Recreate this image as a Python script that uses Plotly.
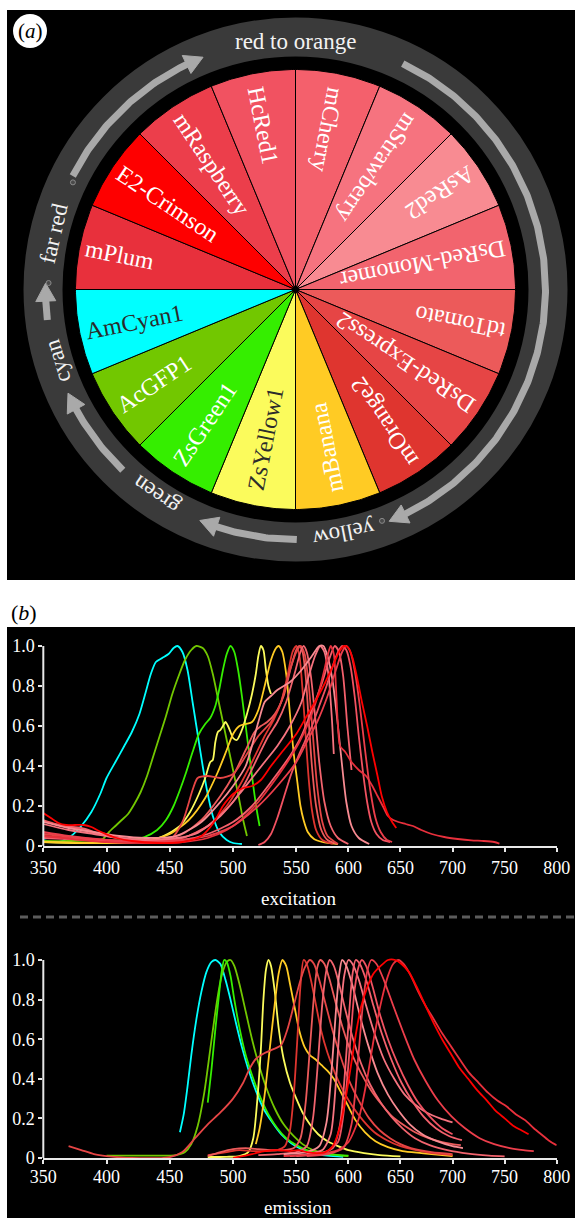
import math
import plotly.graph_objects as go

# ---------------- panel (a) data ----------------
proteins = ["mCherry", "mStrawberry", "AsRed2", "DsRed-Monomer", "tdTomato",
            "DsRed-Express2", "mOrange2", "mBanana", "ZsYellow1", "ZsGreen1",
            "AcGFP1", "AmCyan1", "mPlum", "E2-Crimson", "mRaspberry", "HcRed1"]
slice_values = [1, 1, 1, 1, 1, 1, 1, 1, 1, 1, 1, 1, 1, 1, 1, 1]
slice_colors = ["#f4606c", "#f6737f", "#f88b92", "#f2646e", "#ec5a5a",
                "#e64545", "#df352f", "#ffcb24", "#fbfb5c", "#35ee00",
                "#72c700", "#00ffff", "#e8303c", "#fe0000", "#ec3e4b", "#f15261"]
label_colors = ["white", "white", "white", "white", "white", "white", "white",
                "white", "#2b2b2b", "white", "white", "#2b2b2b", "white",
                "white", "white", "white"]

color_groups = ["red to orange", "yellow", "green", "cyan", "far red"]
group_label_angles = [90.0, -79.0, -124.2, -163.4, 166.9]
arrow_start_angles = [153.0, 64.6, -89.7, -133.7, -173.0]
arrow_tip_angles = [111.7, -68.0, -112.5, -155.5, -181.45]
dot_angles = [154.3, 178.5, -69.5]

# ---------------- panel (b) data ----------------
x_ticks = [350, 400, 450, 500, 550, 600, 650, 700, 750, 800]
y_ticks = [0, 0.2, 0.4, 0.6, 0.8, 1.0]
y_ticktext = ["0", "0.2", "0.4", "0.6", "0.8", "1.0"]

# excitation spectra (wavelength nm, normalised intensity)
amcyan1_ex = [(350, 0.03), (358, 0.02), (365, 0.025), (372, 0.05), (380, 0.1), (388, 0.17),
              (395, 0.26), (400, 0.34), (407, 0.42), (414, 0.5), (420, 0.57), (426, 0.66),
              (431, 0.77), (435, 0.86), (439, 0.92), (444, 0.94), (449, 0.96), (453, 0.99),
              (456, 1.0), (460, 0.97), (464, 0.88), (468, 0.72), (472, 0.56), (476, 0.4),
              (480, 0.26), (484, 0.15), (489, 0.07), (495, 0.03), (500, 0.015), (507, 0.01)]
acgfp1_ex = [(350, 0.025), (370, 0.025), (390, 0.028), (397, 0.035), (402, 0.07), (407, 0.1),
             (412, 0.13), (417, 0.16), (422, 0.21), (427, 0.27), (432, 0.35), (437, 0.45),
             (442, 0.55), (447, 0.65), (452, 0.76), (457, 0.85), (462, 0.93), (467, 0.98),
             (471, 1.0), (476, 0.99), (480, 0.95), (484, 0.86), (488, 0.74), (492, 0.62),
             (496, 0.5), (500, 0.38), (504, 0.26), (508, 0.13), (511, 0.05)]
zsgreen1_ex = [(400, 0.025), (420, 0.03), (430, 0.045), (440, 0.08), (447, 0.13), (453, 0.2),
               (458, 0.28), (463, 0.37), (468, 0.47), (473, 0.56), (478, 0.61), (482, 0.64),
               (486, 0.7), (489, 0.78), (492, 0.88), (495, 0.96), (498, 1.0), (501, 0.97),
               (504, 0.88), (507, 0.75), (510, 0.6), (513, 0.45), (516, 0.3), (519, 0.17),
               (521, 0.1)]
zsyellow1_ex = [(350, 0.02), (380, 0.015), (410, 0.015), (430, 0.025), (445, 0.05), (458, 0.1),
                (466, 0.17), (473, 0.26), (478, 0.34), (482, 0.42), (484, 0.43), (486, 0.52),
                (488, 0.57), (490, 0.58), (492, 0.6), (494, 0.62), (496, 0.6), (498, 0.57),
                (500, 0.54), (503, 0.53), (507, 0.58), (511, 0.66), (515, 0.76), (518, 0.86),
                (520, 0.95), (522, 1.0), (524, 0.98), (526, 0.88), (528, 0.8), (530, 0.76)]
mbanana_ex = [(350, 0.02), (400, 0.015), (430, 0.025), (450, 0.06), (465, 0.13), (478, 0.24),
              (488, 0.37), (495, 0.48), (500, 0.56), (505, 0.6), (510, 0.61), (515, 0.62),
              (520, 0.68), (525, 0.8), (530, 0.93), (534, 0.99), (536, 1.0), (539, 0.97),
              (542, 0.86), (545, 0.66), (548, 0.46), (551, 0.32), (554, 0.2), (557, 0.13),
              (561, 0.07), (567, 0.035), (575, 0.02), (590, 0.01)]
morange2_ex = [(350, 0.05), (370, 0.04), (400, 0.02), (430, 0.02), (460, 0.04), (480, 0.1),
               (495, 0.2), (505, 0.3), (515, 0.42), (525, 0.55), (532, 0.63), (538, 0.72),
               (543, 0.85), (547, 0.97), (550, 1.0), (553, 0.95), (556, 0.78), (559, 0.55),
               (562, 0.33), (565, 0.18), (569, 0.08), (575, 0.03), (585, 0.01)]
tdtomato_ex = [(350, 0.13), (360, 0.11), (375, 0.09), (390, 0.065), (400, 0.05), (420, 0.03),
               (440, 0.03), (460, 0.06), (475, 0.13), (490, 0.25), (500, 0.35), (510, 0.48),
               (517, 0.57), (522, 0.6), (527, 0.62), (533, 0.66), (540, 0.75), (546, 0.9),
               (550, 0.98), (553, 1.0), (556, 0.97), (559, 0.85), (562, 0.62), (565, 0.4),
               (569, 0.2), (574, 0.08), (580, 0.03), (590, 0.01)]
dsredexpress2_ex = [(350, 0.06), (365, 0.05), (380, 0.04), (400, 0.03), (430, 0.025),
                    (450, 0.03), (460, 0.12), (468, 0.28), (472, 0.34), (480, 0.35),
                    (490, 0.34), (500, 0.36), (510, 0.45), (520, 0.55), (530, 0.62),
                    (538, 0.72), (545, 0.88), (550, 0.97), (554, 1.0), (558, 0.96),
                    (562, 0.8), (566, 0.55), (570, 0.3), (575, 0.12), (580, 0.05), (590, 0.01)]
dsredmonomer_ex = [(350, 0.125), (365, 0.1), (380, 0.09), (395, 0.06), (410, 0.04), (430, 0.03),
                   (460, 0.04), (480, 0.1), (500, 0.22), (510, 0.32), (520, 0.45), (528, 0.55),
                   (535, 0.62), (542, 0.72), (549, 0.87), (554, 0.97), (557, 1.0), (560, 0.97),
                   (564, 0.85), (568, 0.65), (572, 0.42), (577, 0.22), (583, 0.1), (590, 0.04),
                   (600, 0.01)]
mstrawberry_ex = [(350, 0.11), (370, 0.08), (390, 0.06), (410, 0.04), (440, 0.03), (470, 0.06),
                  (490, 0.15), (505, 0.26), (515, 0.34), (525, 0.42), (535, 0.5), (545, 0.6),
                  (555, 0.72), (562, 0.85), (568, 0.95), (573, 1.0), (577, 0.97), (581, 0.85),
                  (584, 0.65), (586, 0.46)]
asred2_ex = [(350, 0.12), (370, 0.09), (390, 0.07), (410, 0.05), (430, 0.04), (455, 0.05),
             (475, 0.12), (490, 0.22), (500, 0.3), (510, 0.4), (520, 0.62), (525, 0.72),
             (530, 0.75), (535, 0.78), (545, 0.82), (555, 0.88), (565, 0.95), (572, 1.0),
             (576, 1.0), (580, 0.95), (585, 0.82), (590, 0.6), (594, 0.4), (598, 0.22),
             (603, 0.1), (610, 0.04), (620, 0.01)]
mcherry_ex = [(350, 0.04), (370, 0.035), (400, 0.025), (430, 0.02), (460, 0.03), (480, 0.06),
              (500, 0.12), (515, 0.2), (530, 0.32), (545, 0.45), (555, 0.55), (565, 0.68),
              (575, 0.82), (582, 0.94), (587, 1.0), (591, 0.97), (595, 0.85), (599, 0.6),
              (603, 0.38)]
hcred1_ex = [(520, 0.005), (525, 0.02), (530, 0.06), (535, 0.14), (540, 0.24), (546, 0.36),
             (552, 0.45), (558, 0.52), (565, 0.6), (572, 0.7), (579, 0.8), (585, 0.9),
             (590, 0.97), (594, 1.0), (598, 0.98), (602, 0.9), (606, 0.75), (610, 0.55),
             (614, 0.37), (618, 0.22), (622, 0.12), (627, 0.06), (633, 0.03), (640, 0.02)]
mplum_ex = [(350, 0.05), (365, 0.04), (380, 0.03), (400, 0.02), (430, 0.015), (460, 0.02),
            (480, 0.04), (495, 0.08), (508, 0.14), (520, 0.22), (532, 0.32), (543, 0.42),
            (553, 0.52), (562, 0.62), (570, 0.74), (576, 0.86), (580, 0.95), (583, 1.0),
            (586, 0.96), (588, 0.8), (590, 0.6), (592, 0.5), (597, 0.47), (603, 0.42),
            (610, 0.38), (617, 0.35), (623, 0.3), (628, 0.25), (633, 0.2), (638, 0.15),
            (643, 0.13), (648, 0.12), (655, 0.11), (662, 0.1), (670, 0.08), (680, 0.06),
            (692, 0.045), (705, 0.035), (718, 0.028), (730, 0.025), (740, 0.02), (745, 0.012)]
mraspberry_ex = [(350, 0.07), (370, 0.05), (400, 0.03), (430, 0.02), (460, 0.03), (480, 0.05),
                 (500, 0.1), (520, 0.2), (535, 0.3), (550, 0.42), (560, 0.52), (570, 0.62),
                 (580, 0.75), (588, 0.88), (594, 0.97), (598, 1.0), (602, 0.97), (606, 0.88),
                 (611, 0.7), (616, 0.48), (621, 0.28), (626, 0.14), (631, 0.07), (637, 0.03),
                 (642, 0.02)]
e2crimson_ex = [(350, 0.165), (356, 0.14), (362, 0.115), (368, 0.105), (375, 0.105), (382, 0.105),
                (388, 0.095), (394, 0.075), (400, 0.058), (408, 0.04), (420, 0.025), (440, 0.015),
                (460, 0.02), (475, 0.05), (485, 0.12), (492, 0.2), (500, 0.26), (508, 0.29),
                (515, 0.3), (522, 0.33), (530, 0.4), (540, 0.48), (550, 0.56), (560, 0.65),
                (570, 0.74), (578, 0.82), (585, 0.9), (591, 0.97), (596, 1.0), (600, 0.99),
                (604, 0.94), (608, 0.85), (613, 0.72), (618, 0.6), (623, 0.47), (628, 0.35),
                (632, 0.25), (637, 0.17), (642, 0.12), (646, 0.09)]

# emission spectra
amcyan1_em = [(458, 0.13), (461, 0.22), (464, 0.36), (467, 0.52), (471, 0.7), (475, 0.84),
              (479, 0.94), (483, 0.99), (486, 1.0), (490, 0.98), (494, 0.9), (498, 0.8),
              (502, 0.69), (507, 0.56), (512, 0.45), (518, 0.34), (524, 0.25), (531, 0.18),
              (538, 0.12), (546, 0.075), (555, 0.045), (565, 0.025), (580, 0.012), (595, 0.006)]
acgfp1_em = [(400, 0.012), (420, 0.012), (440, 0.012), (455, 0.015), (462, 0.03), (467, 0.07),
             (472, 0.16), (477, 0.32), (482, 0.55), (487, 0.78), (491, 0.92), (495, 0.99),
             (498, 1.0), (501, 0.97), (505, 0.88), (510, 0.74), (515, 0.6), (520, 0.48),
             (526, 0.36), (533, 0.25), (540, 0.17), (548, 0.11), (556, 0.07), (566, 0.04),
             (578, 0.025), (590, 0.015), (600, 0.01)]
zsgreen1_em = [(480, 0.28), (483, 0.45), (486, 0.65), (489, 0.83), (491, 0.94), (493, 1.0),
               (495, 0.99), (498, 0.92), (501, 0.8), (505, 0.66), (510, 0.52), (516, 0.4),
               (522, 0.3), (528, 0.22), (535, 0.15), (542, 0.1), (550, 0.065), (560, 0.04),
               (570, 0.025), (580, 0.018), (590, 0.015), (600, 0.012)]
zsyellow1_em = [(480, 0.005), (495, 0.006), (505, 0.01), (512, 0.03), (516, 0.1), (519, 0.28),
                (522, 0.55), (524, 0.8), (526, 0.95), (528, 1.0), (530, 0.97), (533, 0.84),
                (536, 0.66), (540, 0.5), (545, 0.38), (550, 0.3), (556, 0.23), (563, 0.17),
                (571, 0.12), (580, 0.085), (590, 0.06), (600, 0.04), (615, 0.025), (630, 0.015),
                (650, 0.008)]
mbanana_em = [(518, 0.07), (521, 0.15), (525, 0.32), (529, 0.55), (533, 0.78), (536, 0.93),
              (539, 1.0), (542, 0.97), (545, 0.88), (549, 0.75), (553, 0.64), (558, 0.56),
              (563, 0.52), (568, 0.5), (574, 0.47), (580, 0.44), (586, 0.4), (592, 0.34),
              (599, 0.27), (607, 0.19), (616, 0.13), (626, 0.085), (638, 0.055), (652, 0.035),
              (670, 0.025), (690, 0.015), (700, 0.01)]
morange2_em = [(480, 0.015), (495, 0.03), (505, 0.04), (515, 0.035), (525, 0.035), (535, 0.04),
               (541, 0.06), (545, 0.14), (548, 0.32), (551, 0.6), (554, 0.87), (557, 1.0),
               (560, 0.98), (564, 0.9), (569, 0.77), (574, 0.64), (580, 0.53), (587, 0.43),
               (595, 0.34), (604, 0.26), (614, 0.19), (625, 0.13), (637, 0.09), (650, 0.06),
               (665, 0.04), (680, 0.025), (700, 0.015)]
dsredexpress2_em = [(370, 0.06), (380, 0.04), (390, 0.02), (400, 0.01), (420, 0.0), (450, 0.005),
                    (460, 0.03), (470, 0.1), (480, 0.17), (490, 0.23), (500, 0.3), (508, 0.38),
                    (513, 0.45), (518, 0.5), (525, 0.53), (532, 0.55), (538, 0.57), (543, 0.65),
                    (548, 0.77), (553, 0.88), (558, 0.96), (563, 1.0), (567, 0.98), (572, 0.9),
                    (578, 0.78), (585, 0.64), (592, 0.52), (600, 0.4), (610, 0.29), (620, 0.2),
                    (630, 0.14), (640, 0.1), (650, 0.07), (660, 0.05), (680, 0.03), (700, 0.02)]
tdtomato_em = [(480, 0.01), (490, 0.03), (500, 0.045), (510, 0.05), (520, 0.045), (530, 0.04),
               (540, 0.04), (548, 0.05), (554, 0.1), (559, 0.28), (563, 0.55), (567, 0.82),
               (570, 0.96), (573, 1.0), (577, 0.98), (582, 0.9), (588, 0.78), (595, 0.65),
               (603, 0.53), (612, 0.43), (622, 0.34), (632, 0.27), (642, 0.21), (652, 0.17),
               (664, 0.13), (677, 0.1), (690, 0.08), (700, 0.07), (708, 0.065)]
dsredmonomer_em = [(520, 0.015), (535, 0.02), (550, 0.03), (560, 0.06), (566, 0.2), (571, 0.5),
                   (575, 0.78), (579, 0.95), (582, 1.0), (586, 0.97), (591, 0.88), (597, 0.75),
                   (604, 0.61), (612, 0.48), (621, 0.37), (631, 0.28), (641, 0.21), (652, 0.15),
                   (664, 0.1), (678, 0.065), (695, 0.04), (715, 0.022), (735, 0.012), (750, 0.008)]
asred2_em = [(540, 0.02), (560, 0.03), (572, 0.06), (579, 0.18), (584, 0.45), (588, 0.74),
             (591, 0.92), (594, 1.0), (598, 0.97), (604, 0.87), (611, 0.72), (619, 0.57),
             (628, 0.43), (638, 0.32), (648, 0.24), (659, 0.17), (671, 0.12), (685, 0.085),
             (700, 0.06), (710, 0.05)]
mstrawberry_em = [(545, 0.01), (560, 0.02), (575, 0.04), (583, 0.12), (588, 0.38), (592, 0.7),
                  (596, 0.92), (600, 1.0), (604, 0.98), (610, 0.9), (617, 0.77), (625, 0.63),
                  (634, 0.5), (644, 0.4), (654, 0.32), (664, 0.27), (675, 0.23), (688, 0.2),
                  (700, 0.18)]
mcherry_em = [(550, 0.01), (570, 0.02), (585, 0.05), (592, 0.17), (597, 0.45), (601, 0.75),
              (604, 0.93), (607, 1.0), (611, 0.98), (617, 0.9), (624, 0.77), (632, 0.63),
              (641, 0.5), (651, 0.38), (661, 0.29), (672, 0.21), (684, 0.15), (697, 0.11),
              (709, 0.09)]
hcred1_em = [(560, 0.015), (578, 0.03), (590, 0.08), (597, 0.3), (602, 0.6), (606, 0.85),
             (610, 0.97), (613, 1.0), (617, 0.97), (623, 0.87), (630, 0.73), (638, 0.6),
             (647, 0.48), (657, 0.37), (667, 0.28), (678, 0.21), (690, 0.15), (700, 0.12)]
mraspberry_em = [(560, 0.01), (580, 0.02), (595, 0.05), (603, 0.17), (609, 0.48), (614, 0.78),
                 (618, 0.94), (622, 1.0), (627, 0.98), (634, 0.9), (643, 0.77), (653, 0.63),
                 (663, 0.5), (674, 0.39), (686, 0.29), (699, 0.21), (712, 0.15), (726, 0.1),
                 (740, 0.07), (755, 0.05), (768, 0.04), (778, 0.035)]
e2crimson_em = [(500, 0.0), (515, 0.02), (525, 0.035), (535, 0.04), (545, 0.035), (552, 0.04),
                (560, 0.03), (570, 0.025), (578, 0.03), (585, 0.06), (591, 0.14), (597, 0.29),
                (602, 0.45), (607, 0.62), (612, 0.76), (618, 0.86), (624, 0.93), (631, 0.97),
                (638, 1.0), (645, 1.0), (651, 0.98), (658, 0.94), (666, 0.86), (674, 0.77),
                (682, 0.68), (690, 0.6), (698, 0.53), (706, 0.46), (715, 0.4), (724, 0.34),
                (733, 0.29), (741, 0.24), (750, 0.2), (759, 0.16), (766, 0.14), (773, 0.12)]
mplum_em = [(540, 0.01), (570, 0.02), (590, 0.04), (600, 0.08), (610, 0.2), (618, 0.4),
            (625, 0.62), (632, 0.8), (638, 0.92), (643, 0.98), (648, 1.0), (653, 0.98),
            (660, 0.92), (667, 0.84), (675, 0.76), (681, 0.71), (690, 0.63), (699, 0.56),
            (708, 0.49), (716, 0.43), (725, 0.38), (734, 0.33), (743, 0.29), (752, 0.26),
            (761, 0.22), (770, 0.19), (778, 0.15), (785, 0.12), (792, 0.09), (798, 0.07),
            (800, 0.065)]

excitation = {"AmCyan1": amcyan1_ex, "AcGFP1": acgfp1_ex, "ZsGreen1": zsgreen1_ex,
              "ZsYellow1": zsyellow1_ex, "mBanana": mbanana_ex, "mOrange2": morange2_ex,
              "tdTomato": tdtomato_ex, "DsRed-Express2": dsredexpress2_ex,
              "DsRed-Monomer": dsredmonomer_ex, "mStrawberry": mstrawberry_ex,
              "AsRed2": asred2_ex, "mCherry": mcherry_ex, "HcRed1": hcred1_ex,
              "mPlum": mplum_ex, "mRaspberry": mraspberry_ex, "E2-Crimson": e2crimson_ex}
emission = {"AmCyan1": amcyan1_em, "AcGFP1": acgfp1_em, "ZsGreen1": zsgreen1_em,
            "ZsYellow1": zsyellow1_em, "mBanana": mbanana_em, "mOrange2": morange2_em,
            "tdTomato": tdtomato_em, "DsRed-Express2": dsredexpress2_em,
            "DsRed-Monomer": dsredmonomer_em, "mStrawberry": mstrawberry_em,
            "AsRed2": asred2_em, "mCherry": mcherry_em, "HcRed1": hcred1_em,
            "mPlum": mplum_em, "mRaspberry": mraspberry_em, "E2-Crimson": e2crimson_em}

# ---------------- geometry / style ----------------
W, H = 575, 1218
SERIF = "Liberation Serif"
CX, CY, R_PIE = 295.5, 289.5, 220.0
R_RING = 252.5
RING_W = 39
R_ARROW = 250.0
ARROW_W = 7
HEAD_LEN, HEAD_HALF = 18.0, 10.0
PIE_FS = 24
RING_FS = 23
R_RING_TEXT = 248.5
RING_COLOR = "#3a3a3a"
ARROW_COLOR = "#a9a9a9"
AXIS_COLOR = "#e8e8e8"

# piecewise-linear wavelength scale (the original axis is compressed above 550 nm)
X_BREAK, X_K = 550.0, 0.8234
def xmap(nm):
    return nm if nm <= X_BREAK else X_BREAK + (nm - X_BREAK) * X_K

PLOT_X0, PLOT_X1 = 43.3, 556.7
EX_Y0, EX_Y1 = 846.0, 646.0
EM_Y0, EM_Y1 = 1158.0, 960.0
YTOP = 1.04

TIMES_W = {'a': 444, 'b': 500, 'c': 444, 'd': 500, 'e': 444, 'f': 333, 'g': 500, 'h': 500,
           'i': 278, 'j': 278, 'k': 500, 'l': 278, 'm': 778, 'n': 500, 'o': 500, 'p': 500,
           'q': 500, 'r': 333, 's': 389, 't': 278, 'u': 500, 'v': 500, 'w': 722, 'x': 500,
           'y': 500, 'z': 444, 'A': 722, 'B': 667, 'C': 667, 'D': 722, 'E': 611, 'F': 556,
           'G': 722, 'H': 722, 'M': 889, 'O': 722, 'P': 556, 'R': 667, 'S': 556, 'T': 611,
           'Y': 722, 'Z': 611, '-': 333, ' ': 250}

def text_width(s, size):
    return sum(TIMES_W.get(ch, 500) for ch in s) * size / 1000.0

def pol(r, a):
    t = math.radians(a)
    return CX + r * math.cos(t), CY - r * math.sin(t)

def norm_angle(a):
    return ((a + 180.0) % 360.0) - 180.0

fig = go.Figure()
shapes = []
annotations = []

# backgrounds
shapes.append(dict(type="rect", xref="x", yref="y", x0=7, x1=575, y0=10, y1=580,
                   fillcolor="black", line=dict(width=0), layer="below"))
shapes.append(dict(type="rect", xref="x", yref="y", x0=7, x1=575, y0=627, y1=1218,
                   fillcolor="black", line=dict(width=0), layer="below"))
shapes.append(dict(type="circle", xref="x", yref="y", x0=CX - R_RING, x1=CX + R_RING,
                   y0=CY - R_RING, y1=CY + R_RING, fillcolor="rgba(0,0,0,0)",
                   line=dict(color=RING_COLOR, width=RING_W), layer="below"))

# pie slices
total = float(sum(slice_values))
cum = 0.0
for name, val, col, tcol in zip(proteins, slice_values, slice_colors, label_colors):
    a0 = 90.0 - cum / total * 360.0
    cum += val
    a1 = 90.0 - cum / total * 360.0
    n = 40
    xs, ys = [CX], [CY]
    for i in range(n + 1):
        px, py = pol(R_PIE, a0 + (a1 - a0) * i / n)
        xs.append(px)
        ys.append(py)
    xs.append(CX)
    ys.append(CY)
    fig.add_trace(go.Scatter(x=xs, y=ys, mode="lines", fill="toself", fillcolor=col,
                             line=dict(color="black", width=1), hoverinfo="skip",
                             showlegend=False, xaxis="x", yaxis="y"))
    am = (a0 + a1) / 2.0
    r_start = 204.0 + 10.0 * abs(math.cos(math.radians(am)))
    rc = r_start - text_width(name, PIE_FS) / 2.0
    tx, ty = pol(rc, am)
    annotations.append(dict(x=tx, y=ty, xref="x", yref="y", text=name, showarrow=False,
                            textangle=norm_angle(180.0 - am), xanchor="center",
                            yanchor="middle",
                            font=dict(family=SERIF, size=PIE_FS, color=tcol)))

fig.add_trace(go.Scatter(x=[CX], y=[CY], mode="markers", marker=dict(color="black", size=7),
                         hoverinfo="skip", showlegend=False, xaxis="x", yaxis="y"))

# ring arrows
for a_s, a_t in zip(arrow_start_angles, arrow_tip_angles):
    sgn = 1.0 if a_t > a_s else -1.0
    hl = math.degrees(HEAD_LEN / R_ARROW)
    a_base = a_t - sgn * hl
    n = max(8, int(abs(a_base - a_s) * 2))
    xs, ys = [], []
    for i in range(n + 1):
        px, py = pol(R_ARROW, a_s + (a_base + sgn * 0.3 - a_s) * i / n)
        xs.append(px)
        ys.append(py)
    fig.add_trace(go.Scatter(x=xs, y=ys, mode="lines", line=dict(color=ARROW_COLOR, width=ARROW_W),
                             hoverinfo="skip", showlegend=False, xaxis="x", yaxis="y"))
    p1 = pol(R_ARROW - HEAD_HALF, a_base)
    p2 = pol(R_ARROW + HEAD_HALF, a_base)
    p3 = pol(R_ARROW, a_t)
    fig.add_trace(go.Scatter(x=[p1[0], p2[0], p3[0], p1[0]], y=[p1[1], p2[1], p3[1], p1[1]],
                             mode="lines", fill="toself", fillcolor=ARROW_COLOR,
                             line=dict(color=ARROW_COLOR, width=1), hoverinfo="skip",
                             showlegend=False, xaxis="x", yaxis="y"))

dx_, dy_ = [], []
for a in dot_angles:
    px, py = pol(247.0, a)
    dx_.append(px)
    dy_.append(py)
fig.add_trace(go.Scatter(x=dx_, y=dy_, mode="markers",
                         marker=dict(color="#4a4a4a", size=5, line=dict(color="#8a8a8a", width=1)),
                         hoverinfo="skip", showlegend=False, xaxis="x", yaxis="y"))

# ring labels
for lab, a in zip(color_groups, group_label_angles):
    tx, ty = pol(R_RING_TEXT, a)
    annotations.append(dict(x=tx, y=ty, xref="x", yref="y", text=lab, showarrow=False,
                            textangle=norm_angle(90.0 - a), xanchor="center", yanchor="middle",
                            font=dict(family=SERIF, size=RING_FS, color="#f2f2f2")))

# panel labels
shapes.append(dict(type="circle", xref="x", yref="y", x0=13, x1=47, y0=14, y1=48,
                   fillcolor="white", line=dict(width=0)))
annotations.append(dict(x=30, y=31, xref="x", yref="y", text="(<i>a</i>)", showarrow=False,
                        font=dict(family=SERIF, size=21, color="black")))
annotations.append(dict(x=24, y=612, xref="x", yref="y", text="(<i>b</i>)", showarrow=False,
                        font=dict(family=SERIF, size=22, color="black")))

# separator
shapes.append(dict(type="line", xref="x", yref="y", x0=20, x1=575, y0=917, y1=917,
                   line=dict(color="#5c5c5c", width=3, dash="8px,5px")))

# spectra
order = ["AmCyan1", "AcGFP1", "ZsGreen1", "ZsYellow1", "mBanana", "mOrange2", "tdTomato",
         "DsRed-Express2", "DsRed-Monomer", "mStrawberry", "AsRed2", "mCherry", "HcRed1",
         "mPlum", "mRaspberry", "E2-Crimson"]
for spectra, xa, ya in ((excitation, "x2", "y2"), (emission, "x3", "y3")):
    for name in order:
        pts = spectra[name]
        col = slice_colors[proteins.index(name)]
        fig.add_trace(go.Scatter(x=[xmap(p[0]) for p in pts], y=[p[1] for p in pts],
                                 mode="lines", line=dict(color=col, width=1.8, shape="spline",
                                                         smoothing=0.7),
                                 hoverinfo="skip", showlegend=False, xaxis=xa, yaxis=ya))

def ydom(y0_page, y1_page):
    top_page = y0_page - (y0_page - y1_page) * YTOP
    return [(H - y0_page) / H, (H - top_page) / H]

xdom = [PLOT_X0 / W, PLOT_X1 / W]

def x_axis(standoff):
    return dict(domain=xdom, range=[xmap(350), xmap(800)],
                tickmode="array",
                tickvals=[xmap(t) for t in x_ticks], ticktext=[str(t) for t in x_ticks],
                ticks="outside", ticklen=4, tickwidth=1.5, tickcolor=AXIS_COLOR,
                showline=True, linecolor=AXIS_COLOR, linewidth=2, showgrid=False,
                zeroline=False, automargin=False, ticklabelstandoff=standoff,
                tickfont=dict(family=SERIF, size=18, color="white"), fixedrange=True)

def y_axis(dom):
    return dict(domain=dom, range=[0, YTOP], tickmode="array", tickvals=y_ticks,
                ticktext=y_ticktext, ticks="outside", ticklen=4, tickwidth=1.5,
                tickcolor=AXIS_COLOR, showline=False, showgrid=False, zeroline=False,
                automargin=False,
                tickfont=dict(family=SERIF, size=18, color="white"), fixedrange=True)

for xr in ("x2", "x3"):
    yr = "y2" if xr == "x2" else "y3"
    shapes.append(dict(type="line", xref=xr + " domain", yref=yr, x0=0, x1=0, y0=0, y1=1,
                       line=dict(color=AXIS_COLOR, width=2)))

annotations.append(dict(x=298, y=898, xref="x", yref="y", text="excitation", showarrow=False,
                        font=dict(family=SERIF, size=19, color="white")))
annotations.append(dict(x=298, y=1207, xref="x", yref="y", text="emission", showarrow=False,
                        font=dict(family=SERIF, size=19, color="white")))

xa2 = x_axis(0)
xa2["anchor"] = "y2"
xa3 = x_axis(-3)
xa3["anchor"] = "y3"
ya2 = y_axis(ydom(EX_Y0, EX_Y1))
ya2["anchor"] = "x2"
ya3 = y_axis(ydom(EM_Y0, EM_Y1))
ya3["anchor"] = "x3"

fig.update_layout(
    template="none",
    width=W, height=H, autosize=False,
    margin=dict(l=0, r=0, t=0, b=0, pad=0),
    font=dict(family=SERIF, size=18, color="white"),
    paper_bgcolor="white", plot_bgcolor="rgba(0,0,0,0)",
    showlegend=False,
    xaxis=dict(domain=[0, 1], range=[0, W], visible=False, fixedrange=True, automargin=False),
    yaxis=dict(domain=[0, 1], range=[H, 0], visible=False, fixedrange=True, automargin=False),
    xaxis2=xa2, yaxis2=ya2, xaxis3=xa3, yaxis3=ya3,
    shapes=shapes,
    annotations=annotations,
)

fig.write_html("out.html", config={"displayModeBar": False},
               post_script="document.body.style.margin='0';document.body.style.overflow='hidden';")
